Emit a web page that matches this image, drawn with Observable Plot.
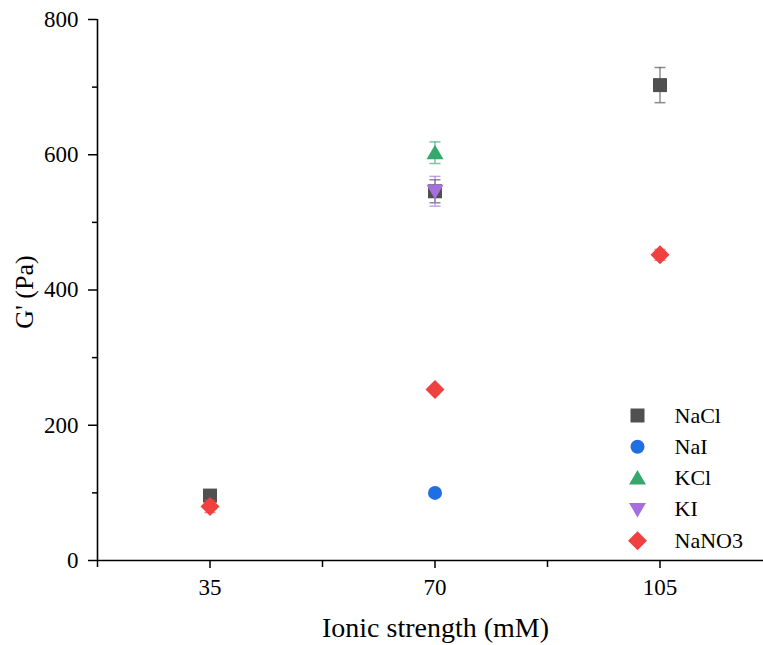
<!DOCTYPE html>
<html>
<head>
<meta charset="utf-8">
<script src="https://cdn.jsdelivr.net/npm/d3@7"></script>
<script src="https://cdn.jsdelivr.net/npm/@observablehq/plot@0.6"></script>
<style>
  html, body { margin: 0; padding: 0; background: #fff; }
  #chart svg { display: block; }
</style>
</head>
<body>
<div id="chart"></div>
<script>
// ---- data ----
const series = ["NaCl", "NaI", "KCl", "KI", "NaNO3"];
const seriesColors = ["#505050", "#1f6fe3", "#37a86d", "#a66fe0", "#f0403f"];

const naclX = [35, 70, 105];
const naclY = [96, 546, 703];
const naclErr = [0, 17, 26];

const naiX = [70];
const naiY = [100];
const naiErr = [0];

const kclX = [70];
const kclY = [603];
const kclErr = [16];

const kiX = [70];
const kiY = [546];
const kiErr = [22];

const nano3X = [35, 70, 105];
const nano3Y = [80, 253, 452];
const nano3Err = [9, 4, 8];

const xMajorTicks = [35, 70, 105];
const xMinorTicks = [17.5, 52.5, 87.5];
const yMajorTicks = [0, 200, 400, 600, 800];
const yMinorTicks = [100, 300, 500, 700];

const xTitle = "Ionic strength (mM)";
const yTitle = "G' (Pa)";

// ---- build tables ----
const seriesData = [
  [naclX, naclY, naclErr],
  [naiX, naiY, naiErr],
  [kclX, kclY, kclErr],
  [kiX, kiY, kiErr],
  [nano3X, nano3Y, nano3Err]
].map(([xs, ys, es], i) => xs.map((x, j) => ({
  series: series[i], x, y: ys[j], lo: ys[j] - es[j], hi: ys[j] + es[j], err: es[j]
})));

// ---- custom symbols (fixed pixel shapes) ----
const symSquare = {draw(c) { c.moveTo(-7, -7); c.lineTo(7, -7); c.lineTo(7, 7); c.lineTo(-7, 7); c.closePath(); }};
const symCircle = {draw(c) { c.moveTo(7, 0); c.arc(0, 0, 7, 0, 2 * Math.PI); c.closePath(); }};
const symUp = {draw(c) { c.moveTo(0, -8); c.lineTo(8.5, 6.5); c.lineTo(-8.5, 6.5); c.closePath(); }};
const symDown = {draw(c) { c.moveTo(0, 8); c.lineTo(8.5, -6.5); c.lineTo(-8.5, -6.5); c.closePath(); }};
const symDiamond = {draw(c) { c.moveTo(0, -9.5); c.lineTo(9.5, 0); c.lineTo(0, 9.5); c.lineTo(-9.5, 0); c.closePath(); }};
const symCap = {draw(c) { c.moveTo(-5.5, 0); c.lineTo(5.5, 0); }};
const symbols = [symSquare, symCircle, symUp, symDown, symDiamond];

const W = 763, H = 645, ML = 97, MT = 19, MB = 85, MR = 0;
const FONT = "'Liberation Serif', 'Times New Roman', serif";

const marks = [];
// axes lines
marks.push(Plot.ruleY([0], {stroke: "#000", strokeWidth: 1.6}));
marks.push(Plot.ruleX([17.5], {y1: 0, y2: 800, stroke: "#000", strokeWidth: 1.6}));

// series
seriesData.forEach((rows, i) => {
  const col = seriesColors[i];
  const withErr = rows.filter(d => d.err > 0);
  marks.push(Plot.ruleX(withErr, {x: "x", y1: "lo", y2: "hi", stroke: col, strokeOpacity: 0.65, strokeWidth: 1.5}));
  marks.push(Plot.dot(withErr, {x: "x", y: "lo", symbol: symCap, stroke: col, strokeOpacity: 0.65, strokeWidth: 1.5, fill: "none"}));
  marks.push(Plot.dot(withErr, {x: "x", y: "hi", symbol: symCap, stroke: col, strokeOpacity: 0.65, strokeWidth: 1.5, fill: "none"}));
  marks.push(Plot.dot(rows, {x: "x", y: "y", symbol: symbols[i], fill: col, stroke: "none", r: 7}));
});

// legend (positioned relative to the frame's bottom-right)
const legendTop = 415, legendStep = 31.3, legendMarkerX = 637, legendTextX = 674;
series.forEach((s, i) => {
  const dy = legendTop + i * legendStep - (H - MB);
  marks.push(Plot.dot([s], {frameAnchor: "bottom-right", dx: legendMarkerX - W, dy, symbol: symbols[i], fill: seriesColors[i], stroke: "none"}));
  marks.push(Plot.text([s], {frameAnchor: "bottom-right", dx: legendTextX - W, dy, text: d => d, textAnchor: "start", lineAnchor: "middle", fontSize: 22, fill: "#000"}));
});

// axes ticks
marks.push(Plot.axisX({ticks: xMajorTicks, tickSize: 8, tickPadding: 10, fontSize: 23, strokeWidth: 1.5, label: null, tickFormat: d => String(d)}));
marks.push(Plot.axisX({ticks: xMinorTicks, tickSize: 7, strokeWidth: 1.5, label: null, tickFormat: () => ""}));
marks.push(Plot.axisY({ticks: yMajorTicks, tickSize: 9, tickPadding: 10, fontSize: 23, strokeWidth: 1.5, label: null, tickFormat: d => String(d)}));
marks.push(Plot.axisY({ticks: yMinorTicks, tickSize: 5, strokeWidth: 1.5, label: null, tickFormat: () => ""}));

// axis titles
marks.push(Plot.text([xTitle], {frameAnchor: "bottom", dx: 5, dy: 68, text: d => d, textAnchor: "middle", lineAnchor: "middle", fontSize: 28, fill: "#000"}));
marks.push(Plot.text([yTitle], {frameAnchor: "left", dx: -73, dy: 2, text: d => d, rotate: -90, textAnchor: "middle", lineAnchor: "middle", fontSize: 26, fill: "#000"}));

const chart = Plot.plot({
  width: W,
  height: H,
  marginLeft: ML,
  marginRight: MR,
  marginTop: MT,
  marginBottom: MB,
  style: {fontFamily: FONT, color: "#000", background: "#fff", overflow: "visible"},
  x: {domain: [17.5, 17.5 + (W - ML) * 35 / 225]},
  y: {domain: [0, 800]},
  marks
});
document.getElementById("chart").appendChild(chart);
</script>
</body>
</html>
